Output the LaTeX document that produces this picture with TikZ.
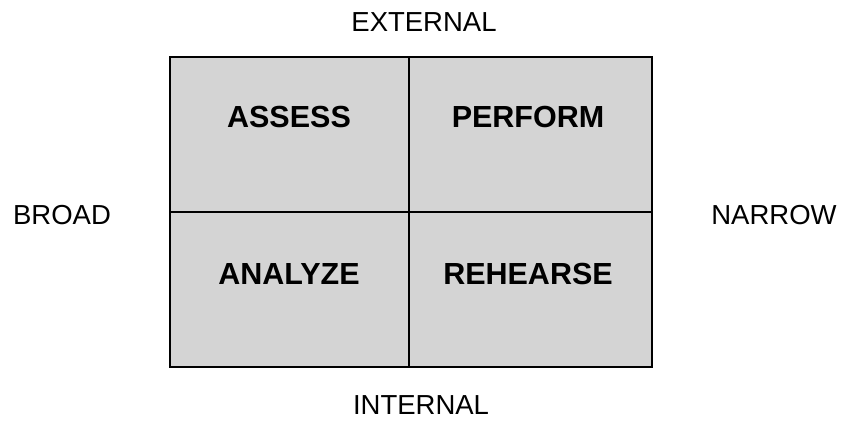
\documentclass[tikz,border=0pt]{standalone}
\usepackage{fontspec}
\setmainfont{Liberation Sans}
\begin{document}
\begin{tikzpicture}[x=1pt,y=-1pt,
  axis/.style={font=\fontsize{27.5}{32}\selectfont, inner sep=0pt, anchor=base},
  quad/.style={font=\fontsize{30.5}{35}\selectfont\bfseries, inner sep=0pt},
  frame/.style={line width=1.8pt, draw=black}]
\useasboundingbox (0,0) rectangle (842,421);
\fill[black!17] (170,57) rectangle (652,367);
\coordinate (tl) at (170,57);
\coordinate (br) at (652,367);
\coordinate (tm) at (409,57);
\coordinate (bm) at (409,367);
\coordinate (ml) at (170,212);
\coordinate (mr) at (652,212);
\draw[frame] (tl) rectangle (br);
\draw[frame] (tm) -- (bm);
\draw[frame] (ml) -- (mr);
\node[quad] (assess) at (289,117) {ASSESS};
\node[quad] (perform) at (528,117) {PERFORM};
\node[quad] (analyze) at (289,274) {ANALYZE};
\node[quad] (rehearse) at (528,274) {REHEARSE};
\node[axis] (ext) at (424,31) {EXTERNAL};
\node[axis] (int) at (421,414) {INTERNAL};
\node[axis] (broad) at (62,224) {BROAD};
\node[axis] (narrow) at (774,224) {NARROW};
\end{tikzpicture}
\end{document}
